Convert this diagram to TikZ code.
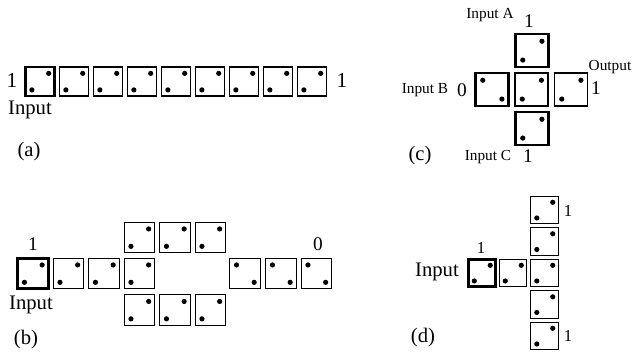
\documentclass[tikz,border=0pt]{standalone}
\usepackage{fontspec}
\setmainfont{Liberation Serif}
\usetikzlibrary{calc}
\tikzset{
  cellbox/.style={draw, rectangle, inner sep=0pt, line width=0.8pt},
  thickcell/.style={line width=1.9pt},
  thincell/.style={},
  lbl/.style={inner sep=0pt, font=\fontsize{15.5}{16}\selectfont},
  biglbl/.style={inner sep=0pt, font=\fontsize{16}{16}\selectfont},
  smlbl/.style={inner sep=0pt, font=\fontsize{11.5}{12}\selectfont},
  midlbl/.style={inner sep=0pt, font=\fontsize{14.5}{15}\selectfont},
  dlbl/.style={inner sep=0pt, font=\fontsize{12.5}{13}\selectfont},
}
% name, x, y, size, state (1 or 0), style
\newcommand\dcell[6]{%
  \node[cellbox, minimum size=#4*0.75pt, #6] (#1) at (#2,#3) {};
  \ifnum#5=1
    \fill ($(#1.center)+(0.3*#4,-0.28*#4)$) circle[radius=1.95pt];
    \fill ($(#1.center)+(-0.28*#4,0.29*#4)$) circle[radius=1.95pt];
  \else
    \fill ($(#1.center)+(-0.28*#4,-0.28*#4)$) circle[radius=1.95pt];
    \fill ($(#1.center)+(0.3*#4,0.29*#4)$) circle[radius=1.95pt];
  \fi
}
\begin{document}
\begin{tikzpicture}[x=0.75pt,y=-0.75pt]
\useasboundingbox (0,0) rectangle (642,356);
% ---------------- (a)
\dcell{a1}{40}{81.5}{29}{1}{thickcell}
\foreach \k [evaluate=\k as \xx using 40+34*\k-34] in {2,...,9}{
  \dcell{a\k}{\xx}{81.5}{29}{1}{thincell}
}
\node[biglbl] (a1l) at (12,80) {1};
\node[biglbl] (a9l) at (342,80) {1};
\node[lbl] (ainp) at (30,110) {Input};
\node[lbl] (acap) at (29,152) {(a)};
% ---------------- (b)
\dcell{b1}{33}{273.5}{30.5}{1}{thickcell}
\dcell{b2}{68.5}{273.5}{30.5}{1}{thincell}
\dcell{b3}{104}{273.5}{30.5}{1}{thincell}
\dcell{b4}{139.5}{273.5}{30.5}{1}{thincell}
\dcell{bt1}{139.5}{237.5}{30.5}{1}{thincell}
\dcell{bt2}{175}{237.5}{30.5}{1}{thincell}
\dcell{bt3}{210.5}{237.5}{30.5}{1}{thincell}
\dcell{bb1}{139.5}{310}{30.5}{1}{thincell}
\dcell{bb2}{175}{310}{30.5}{1}{thincell}
\dcell{bb3}{210.5}{310}{30.5}{1}{thincell}
\dcell{br1}{245}{273.5}{30.5}{0}{thincell}
\dcell{br2}{281}{273.5}{30.5}{0}{thincell}
\dcell{br3}{316.5}{273.5}{30.5}{0}{thincell}
\node[midlbl] (b1l) at (33,244) {1};
\node[midlbl] (b0l) at (318,244) {0};
\node[lbl] (binp) at (31,305) {Input};
\node[lbl] (bcap) at (26,340) {(b)};
% ---------------- (c)
\dcell{ca}{532}{50.5}{33}{1}{thickcell}
\dcell{cb}{492}{89.5}{33}{0}{thickcell}
\dcell{cm}{531.5}{89.5}{33}{1}{thincell}
\dcell{co}{571}{89.5}{33}{1}{thincell}
\dcell{cc}{532}{128.5}{33}{1}{thickcell}
\node[smlbl] (cal) at (490,15) {Input A};
\node[midlbl] (ca1) at (529,21) {1};
\node[smlbl] (cbl) at (425,90) {Input B};
\node[midlbl] (cb0) at (462,90) {0};
\node[smlbl] (col) at (610,67) {Output};
\node[midlbl] (co1) at (596,88) {1};
\node[smlbl] (ccl) at (488,157) {Input C};
\node[midlbl] (cc1) at (528,156) {1};
\node[lbl] (ccap) at (420,156) {(c)};
% ---------------- (d)
\dcell{d1}{482}{273}{27.5}{1}{thickcell}
\dcell{d2}{513}{273}{27.5}{1}{thincell}
\dcell{dv1}{544.5}{210}{27.5}{1}{thincell}
\dcell{dv2}{544.5}{241.5}{27.5}{1}{thincell}
\dcell{dv3}{544.5}{273}{27.5}{1}{thincell}
\dcell{dv4}{544.5}{304.5}{27.5}{1}{thincell}
\dcell{dv5}{544.5}{336}{27.5}{1}{thincell}
\node[dlbl] (dt1) at (568,211) {1};
\node[dlbl] (db1) at (568,336) {1};
\node[dlbl] (di1) at (481,248) {1};
\node[lbl] (dinp) at (437,272) {Input};
\node[lbl] (dcap) at (423,338) {(d)};
\end{tikzpicture}
\end{document}
